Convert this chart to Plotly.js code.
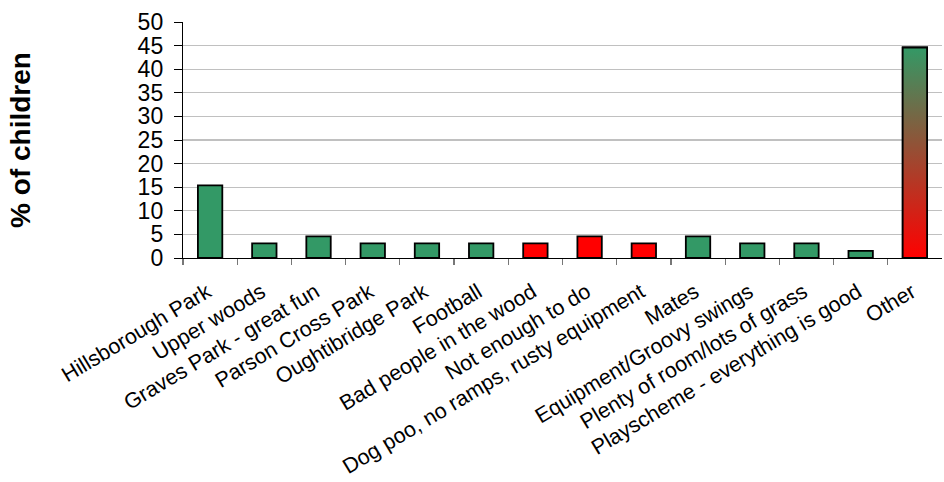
<!DOCTYPE html>
<html>
<head>
<meta charset="utf-8">
<script src="https://cdn.plot.ly/plotly-3.0.1.min.js"></script>
<style>html,body{margin:0;padding:0;background:#fff;}#chart{width:944px;height:482px;}</style>
</head>
<body>
<div id="chart"></div>
<script>
// ---- data ----
var categories = [
  "Hillsborough Park", "Upper woods", "Graves Park - great fun", "Parson Cross Park",
  "Oughtibridge Park", "Football", "Bad people in the wood", "Not enough to do",
  "Dog poo, no ramps, rusty equipment", "Mates", "Equipment/Groovy swings",
  "Plenty of room/lots of grass", "Playscheme - everything is good", "Other"
];
var percentChildren = [15.4, 3.1, 4.6, 3.1, 3.1, 3.1, 3.1, 4.6, 3.1, 4.6, 3.1, 3.1, 1.5, 44.6];
var sentiment = ["pos","pos","pos","pos","pos","pos","neg","neg","neg","pos","pos","pos","pos","mixed"];
var yTicks = [0, 5, 10, 15, 20, 25, 30, 35, 40, 45, 50];

// ---- styles ----
var GREEN = "#339966", RED = "#FF0000";
var BAR_W = 0.45;
var idx = categories.map(function(_, i){ return i; });
var barColors = sentiment.map(function(s){
  return s === "pos" ? GREEN : (s === "neg" ? RED : "rgba(0,0,0,0)");
});

var traces = [{
  type: "bar",
  x: idx,
  y: percentChildren,
  width: BAR_W,
  marker: { color: barColors, line: { color: "#000", width: 1.8 } },
  hoverinfo: "x+y"
}];

// gradient-filled bars (mixed category) drawn as filled polygons from the data
sentiment.forEach(function(s, i){
  if (s !== "mixed") return;
  var v = percentChildren[i];
  traces.push({
    type: "scatter",
    mode: "lines",
    x: [i - BAR_W/2, i + BAR_W/2, i + BAR_W/2, i - BAR_W/2, i - BAR_W/2],
    y: [0, 0, v, v, 0],
    fill: "toself",
    fillgradient: { type: "vertical", colorscale: [[0, RED], [1, GREEN]] },
    line: { color: "#000", width: 1.8 },
    hoverinfo: "skip",
    showlegend: false
  });
});

var font = "Arial, 'Liberation Sans', sans-serif";
var layout = {
  width: 944, height: 482,
  margin: { l: 183, r: 2, t: 22, b: 224 },
  paper_bgcolor: "#fff", plot_bgcolor: "#fff",
  showlegend: false,
  bargap: 0,
  font: { family: font, color: "#000" },
  xaxis: {
    range: [-0.5, categories.length - 0.5],
    tickmode: "array", tickvals: idx, ticktext: categories,
    tickangle: -31,
    ticks: "", ticklen: 0,
    ticklabelstandoff: 12,
    ticklabelshift: -3,
    tickfont: { size: 21.5, family: font, color: "#000" },
    showgrid: false, zeroline: false,
    showline: true, linecolor: "#000", linewidth: 1.2,
    minor: { tickmode: "array", tickvals: idx.map(function(i){ return i - 0.5; }),
             ticks: "outside", ticklen: 6, tickcolor: "#777", tickwidth: 1.2, showgrid: false },
    fixedrange: true
  },
  yaxis: {
    range: [0, 50],
    tickmode: "array", tickvals: yTicks,
    ticks: "outside", ticklen: 8, tickcolor: "#000", tickwidth: 1,
    ticklabelstandoff: 6,
    tickfont: { size: 23, family: font, color: "#000" },
    showgrid: false, zeroline: false,
    showline: true, linecolor: "#000", linewidth: 1.2,
    minor: { tickmode: "array", tickvals: yTicks.slice(1, -1), ticks: "",
             showgrid: true, gridcolor: "#c0c0c0", gridwidth: 1.2 },
    title: { text: "<b>% of children</b>", font: { size: 28, family: font, color: "#000" }, standoff: 98 },
    fixedrange: true
  }
};

Plotly.newPlot("chart", traces, layout, { displayModeBar: false, staticPlot: true });
</script>
</body>
</html>
